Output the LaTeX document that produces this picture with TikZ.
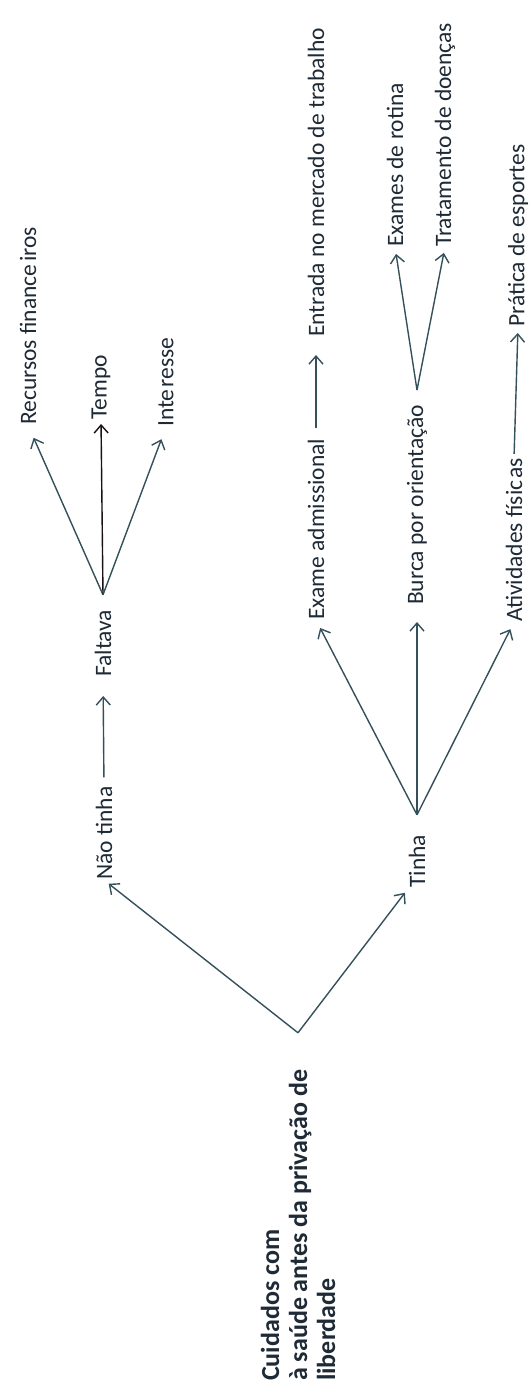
\documentclass[tikz,border=0pt]{standalone}
\usepackage{fontspec}
\setmainfont{Carlito}
\usetikzlibrary{arrows.meta}
\definecolor{lc}{HTML}{34505B}
\definecolor{lcdark}{HTML}{1A1212}
\definecolor{tc}{HTML}{1E2A36}
\begin{document}
\begin{tikzpicture}[x=1pt,y=-1pt,
  lbl/.style={rotate=90, anchor=west, inner sep=0pt, font=\fontsize{23.5}{28}\selectfont, text=tc},
  rootlbl/.style={lbl, font=\fontsize{26}{28}\selectfont\bfseries, align=left},
  arr/.style={draw=lc, line width=1.4pt, -{Straight Barb[length=8pt,width=14pt]}}]
\useasboundingbox (0,0) rectangle (531,1385);
\fill[white] (0,0) rectangle (531,1385);

\node[rootlbl] (root) at (298,1381) {Cuidados com\\à saúde antes da privação de\\liberdade};
\node[lbl] (nao) at (104,880) {Não tinha};
\node[lbl] (faltava) at (103,677) {Faltava};
\node[lbl] (recursos) at (28,425) {Recursos finance\kern3pt iros};
\node[lbl] (tempo) at (101,420) {Tempo};
\node[lbl] (interesse) at (166,427) {Inte\kern2pt resse};
\node[lbl] (tinha) at (417,888) {Tinha};
\node[lbl] (exame) at (316,620) {Exame admissional};
\node[lbl] (burca) at (417,605) {Burca por orientação};
\node[lbl] (ativ) at (514,622) {Atividades físic\kern2pt as};
\node[lbl] (entrada) at (316,337) {Entrada no mercado de trabalho};
\node[lbl] (exrot) at (395,247) {Exames de rotina};
\node[lbl] (trat) at (445,247) {Tratamento de doenças};
\node[lbl] (pratica) at (518,327) {Prática de esportes};

\coordinate (rootTip) at ([yshift=37pt]root.east);
\coordinate (faltavaTip) at ([yshift=15pt]faltava.east);
\coordinate (tinhaTip) at ([yshift=20pt]tinha.east);
\coordinate (burcaTip) at ([yshift=15pt]burca.east);

\draw[arr, shorten >=6pt] (rootTip) -- (nao.west);
\draw[arr, shorten >=6pt] (rootTip) -- (tinha.north west);
\draw[arr, shorten <=9pt, shorten >=19pt] (nao.east) -- (faltava.west);
\draw[arr, shorten >=14pt] (faltavaTip) -- (recursos.west);
\draw[arr, draw=lcdark, shorten >=4pt] (faltavaTip) -- (tempo.west);
\draw[arr, shorten >=13pt] (faltavaTip) -- (interesse.west);
\draw[arr, shorten >=9pt] (tinhaTip) -- (exame.west);
\draw[arr, shorten >=17pt] (tinhaTip) -- (burca.west);
\draw[arr, shorten >=8pt] (tinhaTip) -- (ativ.west);
\draw[arr, shorten <=10pt, shorten >=18pt] (exame.east) -- (entrada.west);
\draw[arr, shorten >=7pt] (burcaTip) -- (exrot.west);
\draw[arr, shorten >=6pt] (burcaTip) -- (trat.west);
\draw[arr, shorten <=4pt, shorten >=6pt] (ativ.east) -- (pratica.west);
\end{tikzpicture}
\end{document}
